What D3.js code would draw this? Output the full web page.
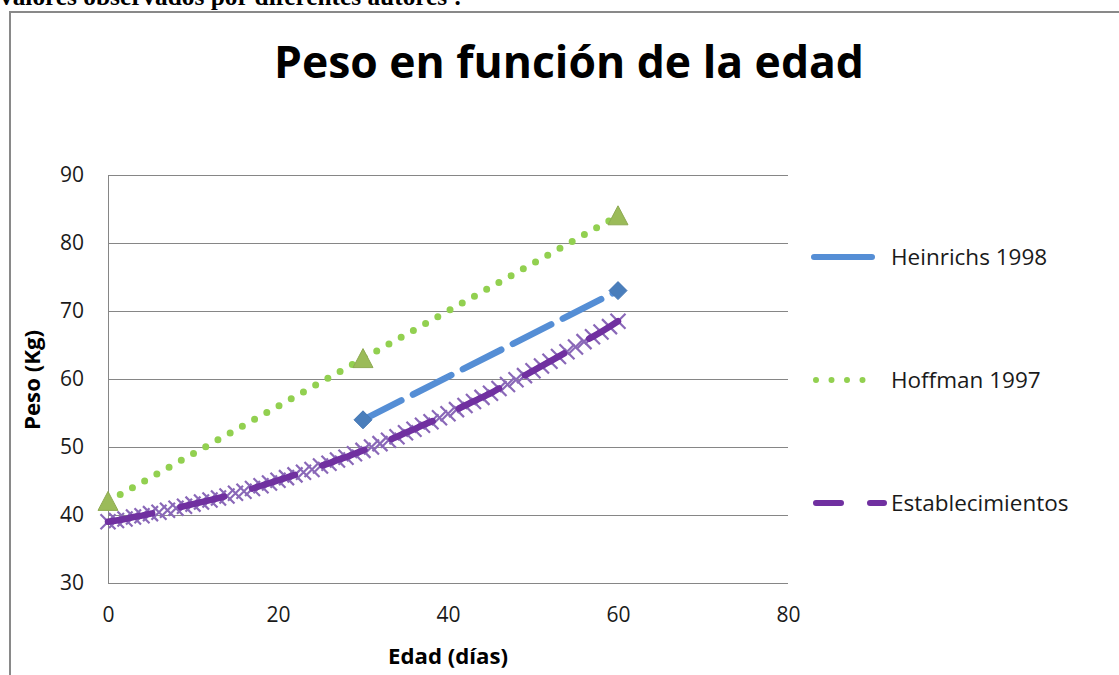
<!DOCTYPE html>
<html>
<head>
<meta charset="utf-8">
<script src="https://cdn.jsdelivr.net/npm/d3@7/dist/d3.min.js"></script>
<style>
  html, body { margin: 0; padding: 0; background: #ffffff; }
  svg { display: block; }
</style>
</head>
<body>
<svg id="chart" width="1119" height="675"></svg>
<script>
// Edad (días) and Peso (Kg) for each source
const heinrichsDias = [30, 60];
const heinrichsPeso = [54, 73];

const hoffmanDias = [0, 30, 60];
const hoffmanPeso = [42, 63, 84];

const establecimientosDias = [
  0, 1, 2, 3, 4, 5, 6, 7, 8, 9,
  10, 11, 12, 13, 14, 15, 16, 17, 18, 19,
  20, 21, 22, 23, 24, 25, 26, 27, 28, 29,
  30, 31, 32, 33, 34, 35, 36, 37, 38, 39,
  40, 41, 42, 43, 44, 45, 46, 47, 48, 49,
  50, 51, 52, 53, 54, 55, 56, 57, 58, 59, 60
];
const establecimientosPeso = [
  39.0, 39.2, 39.4, 39.7, 39.9, 40.2, 40.4, 40.7, 41.0, 41.3,
  41.6, 41.9, 42.2, 42.5, 42.8, 43.2, 43.5, 43.9, 44.3, 44.7,
  45.1, 45.5, 45.9, 46.3, 46.7, 47.2, 47.6, 48.1, 48.5, 49.0,
  49.5, 50.0, 50.5, 51.0, 51.5, 52.1, 52.6, 53.2, 53.7, 54.3,
  54.9, 55.5, 56.1, 56.7, 57.3, 57.9, 58.6, 59.2, 59.9, 60.5,
  61.2, 61.9, 62.6, 63.3, 64.0, 64.7, 65.5, 66.2, 66.9, 67.7, 68.5
];

const xTicks = [0, 20, 40, 60, 80];
const yTicks = [30, 40, 50, 60, 70, 80, 90];

const seriesNames = ["Heinrichs 1998", "Hoffman 1997", "Establecimientos"];

const zip = (xs, ys) => xs.map((d, i) => ({ x: d, y: ys[i] }));
const heinrichs = zip(heinrichsDias, heinrichsPeso);
const hoffman = zip(hoffmanDias, hoffmanPeso);
const establecimientos = zip(establecimientosDias, establecimientosPeso);

const FONT = "'Open Sans', 'DejaVu Sans', sans-serif";
const svg = d3.select("#chart");

// Caption line above the chart frame (the page is scrolled so only its lower part shows)
svg.append("text")
  .attr("x", 0).attr("y", 5)
  .attr("font-family", "'Liberation Serif', 'Times New Roman', serif")
  .attr("font-weight", "bold")
  .attr("font-size", 25)
  .attr("fill", "#000")
  .attr("textLength", 462)
  .attr("lengthAdjust", "spacingAndGlyphs")
  .text("valores observados por diferentes autores :");

// Chart frame
svg.append("rect")
  .attr("x", 10).attr("y", 12)
  .attr("width", 1200).attr("height", 800)
  .attr("fill", "#fff")
  .attr("stroke", "#898989")
  .attr("stroke-width", 2);

// Title
svg.append("text")
  .attr("x", 569).attr("y", 78)
  .attr("text-anchor", "middle")
  .attr("font-family", FONT)
  .attr("font-weight", "bold")
  .attr("font-size", 44)
  .attr("fill", "#000")
  .attr("textLength", 590)
  .attr("lengthAdjust", "spacingAndGlyphs")
  .text("Peso en función de la edad");

const x = d3.scaleLinear().domain([0, 80]).range([108, 788]);
const y = d3.scaleLinear().domain([30, 90]).range([583, 175]);

// Horizontal gridlines
svg.append("g")
  .selectAll("line")
  .data(yTicks)
  .join("line")
  .attr("x1", x(0)).attr("x2", x(80))
  .attr("y1", d => y(d)).attr("y2", d => y(d))
  .attr("stroke", "#868686")
  .attr("stroke-width", 1)
  .attr("shape-rendering", "crispEdges");

// Vertical axis line
svg.append("line")
  .attr("x1", x(0)).attr("x2", x(0))
  .attr("y1", y(90)).attr("y2", y(30))
  .attr("stroke", "#868686")
  .attr("stroke-width", 1)
  .attr("shape-rendering", "crispEdges");

// Axes labels
const yAxis = svg.append("g")
  .attr("transform", `translate(${x(0)},0)`)
  .call(d3.axisLeft(y).tickValues(yTicks).tickSize(0).tickPadding(24).tickFormat(d3.format("d")));
const xAxis = svg.append("g")
  .attr("transform", `translate(0,${y(30)})`)
  .call(d3.axisBottom(x).tickValues(xTicks).tickSize(0).tickPadding(24).tickFormat(d3.format("d")));
[yAxis, xAxis].forEach(g => {
  g.select(".domain").remove();
  g.selectAll("text")
    .attr("font-family", FONT)
    .attr("font-size", 21)
    .attr("fill", "#1a1a1a");
});

// Axis titles
svg.append("text")
  .attr("x", x(40)).attr("y", 664)
  .attr("text-anchor", "middle")
  .attr("font-family", FONT)
  .attr("font-weight", "bold")
  .attr("font-size", 21)
  .attr("fill", "#000")
  .attr("textLength", 120)
  .attr("lengthAdjust", "spacingAndGlyphs")
  .text("Edad (días)");

svg.append("text")
  .attr("transform", "translate(40,380) rotate(-90)")
  .attr("text-anchor", "middle")
  .attr("font-family", FONT)
  .attr("font-weight", "bold")
  .attr("font-size", 21)
  .attr("fill", "#000")
  .attr("textLength", 100)
  .attr("lengthAdjust", "spacingAndGlyphs")
  .text("Peso (Kg)");

const line = d3.line().x(d => x(d.x)).y(d => y(d.y));

// Establecimientos: X markers under a long-dash line
const xm = 7.5;
svg.append("g")
  .selectAll("path")
  .data(establecimientos)
  .join("path")
  .attr("d", d => {
    const cx = x(d.x), cy = y(d.y);
    return `M${cx - xm},${cy - xm}L${cx + xm},${cy + xm}M${cx - xm},${cy + xm}L${cx + xm},${cy - xm}`;
  })
  .attr("stroke", "#8a68b8")
  .attr("stroke-width", 2.2)
  .attr("fill", "none");

svg.append("path")
  .datum(establecimientos)
  .attr("d", line)
  .attr("fill", "none")
  .attr("stroke", "#7030a0")
  .attr("stroke-width", 6.5)
  .attr("stroke-linecap", "round")
  .attr("stroke-dasharray", "45,29");

// Hoffman 1997: round-dot line with triangles
svg.append("path")
  .datum(hoffman)
  .attr("d", line)
  .attr("fill", "none")
  .attr("stroke", "#92d050")
  .attr("stroke-width", 7)
  .attr("stroke-linecap", "round")
  .attr("stroke-dasharray", "0,14");

svg.append("g")
  .selectAll("path")
  .data(hoffman)
  .join("path")
  .attr("d", d => {
    const cx = x(d.x), cy = y(d.y);
    return `M${cx},${cy - 10}L${cx + 10},${cy + 9}L${cx - 10},${cy + 9}Z`;
  })
  .attr("fill", "#9bbb59")
  .attr("stroke", "#8eaa52")
  .attr("stroke-width", 1);

// Heinrichs 1998: long-dash line with diamonds
svg.append("path")
  .datum(heinrichs)
  .attr("d", line)
  .attr("fill", "none")
  .attr("stroke", "#558ed5")
  .attr("stroke-width", 6.5)
  .attr("stroke-linecap", "round")
  .attr("stroke-dasharray", "43,13");

svg.append("g")
  .selectAll("path")
  .data(heinrichs)
  .join("path")
  .attr("d", d => {
    const cx = x(d.x), cy = y(d.y);
    return `M${cx},${cy - 9}L${cx + 9},${cy}L${cx},${cy + 9}L${cx - 9},${cy}Z`;
  })
  .attr("fill", "#4a7ebb")
  .attr("stroke", "#4477b5")
  .attr("stroke-width", 1);

// Legend
const legendY = [257, 380, 503];
const legend = svg.append("g");
legend.append("line")
  .attr("x1", 814).attr("x2", 872)
  .attr("y1", legendY[0]).attr("y2", legendY[0])
  .attr("stroke", "#558ed5").attr("stroke-width", 6)
  .attr("stroke-linecap", "round");
legend.append("line")
  .attr("x1", 816).attr("x2", 878)
  .attr("y1", legendY[1]).attr("y2", legendY[1])
  .attr("stroke", "#92d050").attr("stroke-width", 6)
  .attr("stroke-linecap", "round")
  .attr("stroke-dasharray", "0,15.5");
legend.append("line")
  .attr("x1", 816).attr("x2", 884)
  .attr("y1", legendY[2]).attr("y2", legendY[2])
  .attr("stroke", "#7030a0").attr("stroke-width", 6)
  .attr("stroke-linecap", "round")
  .attr("stroke-dasharray", "25,29");
legend.selectAll("text")
  .data(seriesNames)
  .join("text")
  .attr("x", 891)
  .attr("y", (d, i) => legendY[i] + 8)
  .attr("font-family", FONT)
  .attr("font-size", 22.5)
  .attr("fill", "#1a1a1a")
  .text(d => d);
</script>
</body>
</html>
